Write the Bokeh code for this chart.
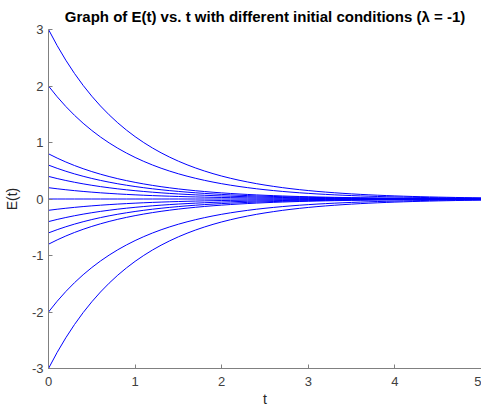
from bokeh.plotting import figure
from bokeh.embed import file_html
from bokeh.resources import INLINE
from bokeh.models import FixedTicker, Range1d

# time samples and the decay profile (normalized by initial value)
t = [0.0, 0.1, 0.2, 0.3, 0.4, 0.5, 0.6, 0.7, 0.8, 0.9,
     1.0, 1.1, 1.2, 1.3, 1.4, 1.5, 1.6, 1.7, 1.8, 1.9,
     2.0, 2.1, 2.2, 2.3, 2.4, 2.5, 2.6, 2.7, 2.8, 2.9,
     3.0, 3.1, 3.2, 3.3, 3.4, 3.5, 3.6, 3.7, 3.8, 3.9,
     4.0, 4.1, 4.2, 4.3, 4.4, 4.5, 4.6, 4.7, 4.8, 4.9, 5.0]
profile = [1.0000, 0.9048, 0.8187, 0.7408, 0.6703, 0.6065, 0.5488, 0.4966, 0.4493, 0.4066,
           0.3679, 0.3329, 0.3012, 0.2725, 0.2466, 0.2231, 0.2019, 0.1827, 0.1653, 0.1496,
           0.1353, 0.1225, 0.1108, 0.1003, 0.0907, 0.0821, 0.0743, 0.0672, 0.0608, 0.0550,
           0.0498, 0.0450, 0.0408, 0.0369, 0.0334, 0.0302, 0.0273, 0.0247, 0.0224, 0.0202,
           0.0183, 0.0166, 0.0150, 0.0136, 0.0123, 0.0111, 0.0101, 0.0091, 0.0082, 0.0074, 0.0067]
initial_values = [3, 2, 0.8, 0.6, 0.4, 0.2, 0, -0.2, -0.4, -0.6, -0.8, -2, -3]
x_ticks = [0, 1, 2, 3, 4, 5]
y_ticks = [-3, -2, -1, 0, 1, 2, 3]
y_tick_labels = ["-3", "-2", "-1", "0", "1", "2", "3"]

p = figure(width=481, height=409, output_backend="svg", toolbar_location=None,
           x_range=Range1d(0, 5), y_range=Range1d(-3, 3),
           min_border_left=38, min_border_right=0, min_border_top=0, min_border_bottom=0)

p.title.text = "Graph of E(t) vs. t with different initial conditions (\u03bb = -1)"
p.title.align = "center"
p.title.text_font = "Liberation Sans"
p.title.text_font_size = "15px"
p.title.text_font_style = "bold"
p.title.text_color = "#000000"
p.title.standoff = 10

for e0 in initial_values:
    p.line(t, [e0 * f for f in profile], line_color="#0000FF", line_width=1)

p.grid.visible = False
p.outline_line_color = None

for ax in (p.xaxis[0], p.yaxis[0]):
    ax.axis_line_color = "#808080"
    ax.major_tick_line_color = "#808080"
    ax.major_tick_in = 4
    ax.major_tick_out = 0
    ax.minor_tick_line_color = None
    ax.major_label_text_font = "Liberation Sans"
    ax.major_label_text_font_size = "13px"
    ax.major_label_text_color = "#404040"
    ax.axis_label_text_font = "Liberation Sans"
    ax.axis_label_text_font_size = "14px"
    ax.axis_label_text_font_style = "normal"
    ax.axis_label_text_color = "#262626"

p.xaxis.ticker = FixedTicker(ticks=x_ticks)
p.yaxis.ticker = FixedTicker(ticks=y_ticks)
p.yaxis.major_label_overrides = {v: s for v, s in zip(y_ticks, y_tick_labels)}
p.xaxis.axis_label = "t"
p.yaxis.axis_label = "E(t)"
p.xaxis.major_label_standoff = 8
p.yaxis.major_label_standoff = 5
p.xaxis.axis_label_standoff = 2
p.yaxis.axis_label_standoff = 9

open("out.html", "w").write(file_html(p, INLINE))
